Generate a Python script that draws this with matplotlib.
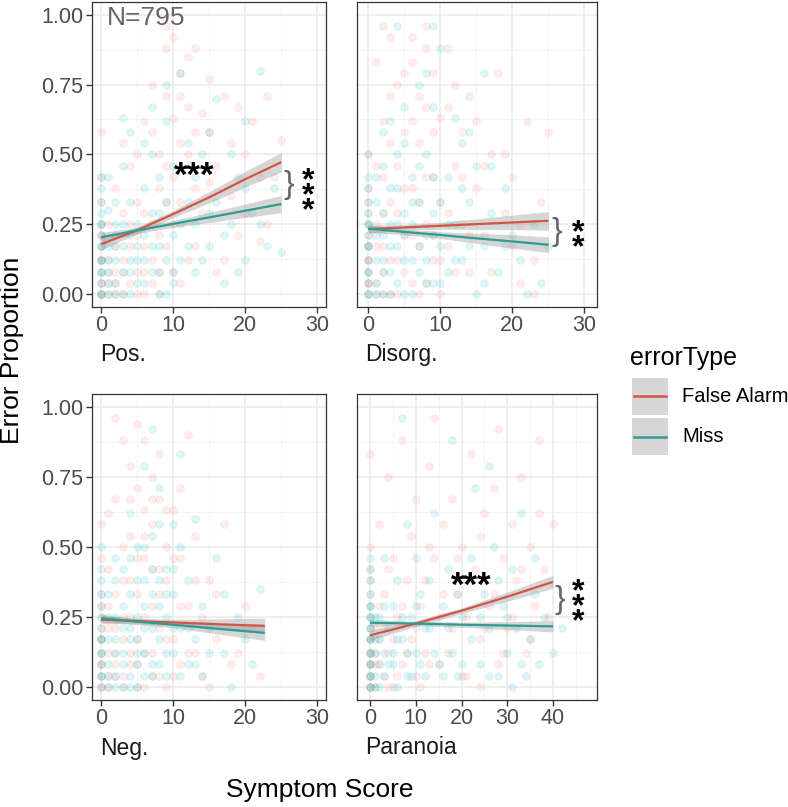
import numpy as np
import matplotlib
matplotlib.use('Agg')
import matplotlib.pyplot as plt
from matplotlib.patches import Rectangle
from matplotlib.lines import Line2D

plt.rcParams['font.family'] = ['Liberation Sans', 'DejaVu Sans']

W, H = 788, 807

# colours
fa_pt, miss_pt = '#F8766D', '#00BFC4'
fa_line, miss_line = '#D25545', '#2E9C90'

# ---------------- point clouds (x, y) ----------------
pos_fa = [
    (0, .00), (0, .04), (0, .08), (0, .12), (0, .17), (0, .21), (0, .25), (0, .33), (0, .42), (0, .58),
    (1, .00), (1, .12), (1, .25), (2, .00), (2, .08), (2, .38), (3, .00), (3, .29), (4, .04), (4, .46),
    (5, .00), (5, .21), (6, .17), (6, .62), (7, .25), (7, .75), (8, .00), (8, .50), (9, .33), (9, .88),
    (10, .92), (10, .42), (11, .54), (11, .71), (12, .67), (12, .12), (13, .88), (13, .38), (14, .29), (15, .58),
    (15, .77), (16, .46), (17, .12), (18, .35), (19, .21), (20, .50), (21, .62), (22, .19), (23, .25), (24, .42),
    (25, .55), (9, .96), (10, .63), (12, .85), (6, .08), (8, .21), (3, .54), (14, .65), (17, .71), (11, .04),
    (0, .00), (0, .04), (0, .12), (0, .21), (1, .04), (1, .08), (2, .04), (2, .17), (2, .21), (3, .08),
    (3, .12), (4, .17), (4, .25), (5, .08), (5, .33), (6, .00), (6, .29), (7, .04), (7, .12), (8, .08),
    (8, .38), (9, .17), (9, .46), (10, .08), (10, .25), (11, .33), (12, .50), (13, .17), (16, .08), (18, .54),
    (20, .29), (22, .42), (5, .50), (7, .58), (9, .71), (11, .79), (13, .58), (15, .40), (19, .67), (23, .71),
]
pos_miss = [
    (0, .00), (0, .04), (0, .08), (0, .12), (0, .17), (0, .21), (0, .25), (0, .29), (0, .33), (0, .42),
    (1, .04), (1, .17), (1, .30), (2, .00), (2, .12), (2, .25), (3, .08), (3, .17), (4, .00), (4, .33),
    (5, .12), (5, .25), (6, .04), (6, .38), (7, .17), (7, .50), (8, .08), (8, .29), (9, .00), (9, .62),
    (10, .21), (10, .46), (11, .12), (11, .79), (12, .33), (13, .08), (13, .25), (14, .50), (15, .17), (16, .33),
    (17, .04), (18, .25), (19, .42), (20, .12), (21, .29), (22, .80), (23, .17), (24, .38), (25, .15), (7, .67),
    (4, .58), (12, .54), (16, .70), (19, .08), (1, .42), (3, .46), (8, .00), (14, .12), (20, .62), (10, .04),
    (0, .00), (0, .08), (0, .12), (0, .17), (0, .25), (0, .38), (1, .00), (1, .08), (1, .12), (2, .04),
    (2, .17), (2, .33), (3, .00), (3, .25), (4, .08), (4, .12), (4, .21), (5, .04), (5, .17), (6, .12),
    (6, .21), (7, .08), (7, .29), (8, .17), (8, .42), (9, .12), (9, .33), (10, .08), (11, .25), (12, .17),
    (13, .42), (15, .29), (17, .21), (18, .50), (20, .38), (22, .25), (6, .54), (9, .75), (3, .63), (15, .58),
]
disorg_fa = [
    (0, .00), (0, .04), (0, .08), (0, .12), (0, .17), (0, .21), (0, .25), (0, .29), (0, .38), (0, .50),
    (1, .00), (1, .17), (1, .83), (2, .08), (2, .29), (2, .62), (3, .00), (3, .33), (3, .92), (4, .12),
    (4, .46), (4, .75), (5, .21), (5, .58), (6, .04), (6, .38), (6, .83), (7, .00), (7, .54), (7, .71),
    (8, .25), (8, .67), (8, .96), (9, .12), (9, .42), (9, .79), (10, .33), (10, .63), (11, .17), (11, .88),
    (12, .46), (13, .25), (13, .58), (14, .08), (14, .71), (15, .38), (16, .21), (17, .50), (18, .79), (19, .29),
    (20, .42), (21, .04), (22, .62), (23, .12), (24, .33), (25, .58), (6, .92), (12, .75), (2, .96), (10, .00),
    (0, .04), (0, .12), (0, .17), (0, .33), (1, .04), (1, .25), (1, .46), (2, .00), (2, .17), (2, .42),
    (3, .12), (3, .54), (4, .00), (4, .29), (5, .08), (5, .38), (6, .21), (6, .62), (7, .17), (7, .33),
    (8, .04), (8, .42), (9, .21), (9, .58), (10, .12), (11, .29), (12, .08), (13, .42), (14, .21), (15, .62),
    (17, .08), (19, .50), (21, .25), (23, .00), (5, .79), (8, .88), (3, .71), (11, .67), (16, .46), (20, .17),
]
disorg_miss = [
    (0, .00), (0, .04), (0, .08), (0, .12), (0, .17), (0, .21), (0, .25), (0, .29), (0, .33), (0, .42),
    (1, .04), (1, .21), (1, .33), (2, .00), (2, .12), (2, .46), (3, .08), (3, .25), (3, .62), (4, .17),
    (4, .38), (5, .00), (5, .29), (5, .54), (6, .12), (6, .42), (7, .08), (7, .33), (7, .75), (8, .21),
    (8, .50), (9, .04), (9, .29), (9, .67), (10, .17), (10, .88), (11, .08), (11, .42), (12, .25), (13, .12),
    (13, .54), (14, .33), (15, .00), (15, .46), (16, .17), (17, .29), (18, .08), (19, .38), (20, .21), (21, .12),
    (22, .00), (23, .25), (24, .04), (25, .17), (4, .96), (9, .96), (12, .63), (16, .79), (3, .00), (6, .00),
    (0, .00), (0, .08), (0, .17), (0, .25), (0, .38), (0, .50), (1, .00), (1, .12), (1, .42), (2, .08),
    (2, .21), (2, .29), (3, .17), (3, .38), (4, .04), (4, .25), (4, .50), (5, .12), (5, .21), (6, .25),
    (6, .33), (7, .17), (7, .46), (8, .04), (8, .12), (9, .21), (9, .42), (10, .04), (10, .33), (11, .25),
    (12, .12), (13, .38), (14, .17), (16, .04), (17, .46), (19, .17), (2, .58), (5, .67), (8, .79), (14, .58),
]
neg_fa = [
    (0, .00), (0, .04), (0, .08), (0, .12), (0, .17), (0, .21), (0, .25), (0, .33), (0, .46), (0, .58),
    (1, .00), (1, .12), (1, .29), (1, .62), (2, .04), (2, .21), (2, .67), (2, .96), (3, .00), (3, .17),
    (3, .38), (3, .88), (4, .08), (4, .25), (4, .54), (4, .79), (5, .00), (5, .33), (5, .71), (5, .94),
    (6, .12), (6, .46), (6, .63), (6, .88), (7, .04), (7, .29), (7, .58), (7, .75), (8, .21), (8, .42),
    (8, .67), (9, .00), (9, .38), (9, .50), (10, .17), (10, .63), (11, .08), (11, .46), (12, .29), (12, .90),
    (13, .12), (13, .54), (14, .25), (15, .00), (15, .38), (16, .17), (17, .58), (18, .08), (20, .29), (22, .04),
    (0, .00), (0, .08), (0, .17), (0, .29), (1, .04), (1, .21), (1, .42), (2, .08), (2, .12), (2, .33),
    (3, .04), (3, .25), (3, .50), (4, .12), (4, .38), (4, .67), (5, .08), (5, .17), (5, .46), (6, .00),
    (6, .25), (6, .54), (7, .12), (7, .42), (7, .67), (8, .04), (8, .33), (8, .83), (9, .17), (9, .63),
    (10, .04), (10, .46), (11, .29), (11, .71), (12, .12), (13, .38), (14, .04), (16, .33), (19, .12), (21, .21),
]
neg_miss = [
    (0, .00), (0, .04), (0, .08), (0, .12), (0, .17), (0, .21), (0, .25), (0, .29), (0, .38), (0, .50),
    (1, .04), (1, .17), (1, .33), (2, .00), (2, .12), (2, .25), (2, .46), (3, .08), (3, .21), (3, .42),
    (4, .00), (4, .17), (4, .33), (4, .62), (5, .12), (5, .25), (5, .50), (6, .04), (6, .21), (6, .38),
    (6, .79), (7, .08), (7, .33), (7, .54), (8, .17), (8, .29), (8, .71), (9, .04), (9, .25), (9, .42),
    (10, .12), (10, .33), (10, .58), (11, .21), (11, .83), (12, .08), (12, .38), (13, .17), (13, .60), (14, .04),
    (14, .29), (15, .21), (16, .46), (17, .12), (18, .00), (19, .25), (21, .08), (22, .35), (7, .92), (5, .00),
    (0, .04), (0, .12), (0, .17), (0, .33), (0, .42), (1, .00), (1, .08), (1, .25), (2, .04), (2, .17),
    (2, .38), (3, .00), (3, .12), (3, .29), (4, .04), (4, .21), (4, .46), (5, .08), (5, .17), (5, .38),
    (6, .12), (6, .29), (6, .50), (7, .04), (7, .21), (7, .42), (8, .08), (8, .38), (8, .58), (9, .12),
    (9, .33), (10, .21), (10, .42), (11, .04), (11, .50), (12, .21), (13, .08), (15, .12), (17, .33), (20, .17),
]
para_fa = [
    (0, .00), (0, .04), (0, .08), (0, .12), (0, .17), (0, .21), (0, .25), (0, .33), (0, .42), (0, .83),
    (1, .00), (1, .21), (2, .08), (2, .58), (3, .33), (4, .00), (4, .75), (5, .17), (5, .46), (6, .04),
    (7, .29), (7, .88), (8, .12), (9, .54), (10, .21), (10, .67), (11, .00), (12, .38), (13, .08), (13, .79),
    (14, .46), (15, .25), (16, .58), (17, .12), (18, .67), (19, .33), (20, .04), (20, .50), (21, .25), (22, .83),
    (23, .42), (24, .17), (25, .62), (26, .29), (27, .71), (28, .08), (29, .46), (30, .21), (31, .58), (32, .38),
    (33, .75), (34, .12), (35, .50), (36, .29), (37, .88), (38, .42), (40, .58), (28, .92), (14, .96), (24, .00),
    (0, .00), (0, .04), (0, .08), (0, .12), (0, .17), (0, .29), (0, .38), (0, .50), (1, .08), (1, .12),
    (2, .17), (2, .29), (3, .04), (3, .21), (4, .12), (4, .42), (5, .00), (6, .25), (7, .08), (8, .38),
    (9, .17), (10, .04), (11, .29), (12, .12), (13, .50), (15, .08), (16, .33), (18, .21), (19, .46), (21, .04),
    (22, .38), (24, .54), (25, .21), (27, .33), (29, .12), (31, .25), (33, .42), (35, .17), (37, .62), (39, .25),
]
para_miss = [
    (0, .00), (0, .04), (0, .08), (0, .12), (0, .17), (0, .21), (0, .25), (0, .29), (0, .33), (0, .42),
    (1, .04), (1, .17), (2, .00), (2, .25), (3, .12), (3, .46), (4, .08), (5, .29), (6, .00), (6, .38),
    (7, .17), (8, .04), (8, .58), (9, .25), (10, .12), (10, .46), (11, .33), (12, .04), (13, .21), (14, .62),
    (15, .08), (16, .29), (17, .42), (18, .12), (19, .04), (20, .25), (21, .38), (22, .17), (23, .71), (24, .08),
    (25, .33), (26, .21), (27, .50), (28, .04), (29, .29), (30, .12), (31, .42), (32, .21), (33, .62), (34, .04),
    (35, .17), (36, .33), (37, .08), (38, .25), (40, .12), (42, .21), (26, .79), (18, .88), (7, .96), (31, .00),
    (0, .00), (0, .04), (0, .08), (0, .12), (0, .17), (0, .21), (0, .25), (0, .29), (0, .38), (0, .46),
    (1, .00), (1, .12), (1, .25), (2, .08), (2, .17), (3, .04), (3, .29), (4, .21), (5, .08), (5, .12),
    (6, .17), (7, .25), (8, .12), (9, .04), (10, .29), (11, .08), (12, .21), (13, .38), (14, .12), (16, .04),
    (17, .21), (19, .33), (20, .08), (22, .46), (24, .25), (26, .04), (28, .38), (30, .25), (33, .08), (36, .46),
]

# ---------------- fitted lines and 95% bands ----------------
pos_fit_x = [0, 5, 10, 15, 20, 25]
pos_fa_fit = [0.178, 0.228, 0.286, 0.346, 0.411, 0.472]
pos_fa_se = [0.020, 0.012, 0.013, 0.020, 0.028, 0.035]
pos_miss_fit = [0.203, 0.227, 0.251, 0.274, 0.298, 0.322]
pos_miss_se = [0.017, 0.011, 0.012, 0.018, 0.024, 0.031]

disorg_fit_x = [0, 5, 10, 15, 20, 25]
disorg_fa_fit = [0.232, 0.238, 0.244, 0.250, 0.256, 0.262]
disorg_fa_se = [0.014, 0.010, 0.012, 0.019, 0.026, 0.033]
disorg_miss_fit = [0.234, 0.222, 0.211, 0.199, 0.188, 0.176]
disorg_miss_se = [0.014, 0.010, 0.012, 0.018, 0.024, 0.028]

neg_fit_x = [0, 5, 10, 15, 20, 22.7]
neg_fa_fit = [0.240, 0.235, 0.230, 0.225, 0.220, 0.218]
neg_fa_se = [0.014, 0.010, 0.011, 0.017, 0.024, 0.027]
neg_miss_fit = [0.245, 0.233, 0.222, 0.210, 0.199, 0.193]
neg_miss_se = [0.014, 0.010, 0.011, 0.017, 0.024, 0.027]

para_fit_x = [0, 10, 20, 30, 40]
para_fa_fit = [0.184, 0.226, 0.272, 0.322, 0.375]
para_fa_se = [0.018, 0.010, 0.010, 0.016, 0.023]
para_miss_fit = [0.229, 0.226, 0.222, 0.219, 0.216]
para_miss_se = [0.012, 0.008, 0.009, 0.014, 0.020]

panel_names = ['Pos.', 'Disorg.', 'Neg.', 'Paranoia']
legend_labels = ['False Alarm', 'Miss']


def rect(l, t, r, b):
    return [l / W, 1 - b / H, (r - l) / W, (b - t) / H]


fig = plt.figure(figsize=(W / 100, H / 100), dpi=100)

panels = [
    (rect(91.7, 2, 326, 307), (-1.3, 31.2), [0, 10, 20, 30], pos_fa, pos_miss,
     pos_fit_x, pos_fa_fit, pos_fa_se, pos_miss_fit, pos_miss_se),
    (rect(357.3, 2, 596.7, 307), (-1.53, 31.7), [0, 10, 20, 30], disorg_fa, disorg_miss,
     disorg_fit_x, disorg_fa_fit, disorg_fa_se, disorg_miss_fit, disorg_miss_se),
    (rect(91.7, 394, 326, 700), (-1.3, 31.2), [0, 10, 20, 30], neg_fa, neg_miss,
     neg_fit_x, neg_fa_fit, neg_fa_se, neg_miss_fit, neg_miss_se),
    (rect(357.3, 394, 596.7, 700), (-2.78, 49.55), [0, 10, 20, 30, 40], para_fa, para_miss,
     para_fit_x, para_fa_fit, para_fa_se, para_miss_fit, para_miss_se),
]

axes = []
for i, (r, xlim, xt, fa, miss, fx, faf, fas, mf, ms) in enumerate(panels):
    ax = fig.add_axes(r)
    axes.append(ax)
    ax.set_xticks(xt)
    ax.set_xticks([t + 5 for t in xt], minor=True)
    ax.set_yticks([0, 0.25, 0.5, 0.75, 1.0])
    ax.set_yticks([0.125, 0.375, 0.625, 0.875], minor=True)
    ax.set_xlim(*xlim)
    ax.set_ylim(-0.047, 1.046)
    ax.grid(which='major', color='#EBEBEB', lw=1.1, zorder=0)
    ax.grid(which='minor', color='#F3F3F3', lw=0.6, zorder=0)
    ax.set_axisbelow(True)
    for s in ax.spines.values():
        s.set_color('#333333')
        s.set_linewidth(0.9)
    ax.tick_params(which='major', length=4, width=1.0, color='#333333',
                   labelsize=15.5, labelcolor='#4D4D4D', pad=2)
    ax.tick_params(which='minor', length=0)
    if i in (0, 2):
        ax.set_yticklabels(['0.00', '0.25', '0.50', '0.75', '1.00'])
    else:
        ax.tick_params(axis='y', labelleft=False, length=0)

    for pts, col in ((fa, fa_pt), (miss, miss_pt)):
        a = np.array(pts, dtype=float)
        ax.scatter(a[:, 0], a[:, 1], s=30, color=col, alpha=0.13,
                   edgecolors=col, linewidths=0.6, zorder=2)

    fx = np.array(fx)
    for fit, se in ((faf, fas), (mf, ms)):
        fit, se = np.array(fit), np.array(se)
        ax.fill_between(fx, fit - se, fit + se, color='#999999', alpha=0.4, lw=0, zorder=3)
    for fit, col in ((faf, fa_line), (mf, miss_line)):
        ax.plot(fx, fit, color=col, lw=1.6, zorder=4, solid_capstyle='butt')

    # strip label below panel
    ax.text(8 / (r[2] * W), -48 / (r[3] * H), panel_names[i], transform=ax.transAxes,
            fontsize=16.5, color='#1A1A1A', ha='left', va='center')

# annotations
ax0, ax1, ax3 = axes[0], axes[1], axes[3]
ax0.text(0.8, 0.99, 'N=795', fontsize=19, color='#666666', ha='left', va='center')
star_kw = dict(fontsize=25, fontweight='bold', color='black', ha='center', va='center')
# stacked stars for the between-type contrasts (read top to bottom)
vstar_kw = dict(fontsize=23, fontweight='bold', color='black', ha='center', va='center',
                linespacing=0.35)
brace_kw = dict(fontsize=22.8, color='#666666', ha='center', va='center')

ax0.text(12.9, 0.42, '***', **star_kw)
ax0.text(26.0, 0.39, '}', **brace_kw)
ax0.text(28.7, 0.350, '*\n*\n*', **vstar_kw)

ax1.text(26.1, 0.22, '}', **brace_kw)
ax1.text(29.1, 0.190, '*\n*', **vstar_kw)

ax3.text(22.2, 0.36, '***', **star_kw)
ax3.text(41.4, 0.31, '}', **brace_kw)
ax3.text(45.5, 0.285, '*\n*\n*', **vstar_kw)

# axis titles
fig.text(12 / W, 1 - 350 / H, 'Error Proportion', rotation=90, fontsize=19,
         ha='center', va='center', color='black')
fig.text(320 / W, 1 - 790 / H, 'Symptom Score', fontsize=19,
         ha='center', va='center', color='black')

# legend
fig.text(630 / W, 1 - 358 / H, 'errorType', fontsize=18, ha='left', va='center')
for k, (lab, col) in enumerate(zip(legend_labels, [fa_line, miss_line])):
    top = 378 + k * 40
    fig.add_artist(Rectangle((632 / W, 1 - (top + 37) / H), 36 / W, 37 / H,
                             transform=fig.transFigure, facecolor='#D6D6D6', edgecolor='none'))
    fig.add_artist(Line2D([634 / W, 666 / W], [1 - (top + 18.5) / H] * 2,
                          transform=fig.transFigure, color=col, lw=1.8))
    fig.text(682 / W, 1 - (top + 18.5) / H, lab, fontsize=14.5, ha='left', va='center')

fig.savefig('out.png', dpi=100)
